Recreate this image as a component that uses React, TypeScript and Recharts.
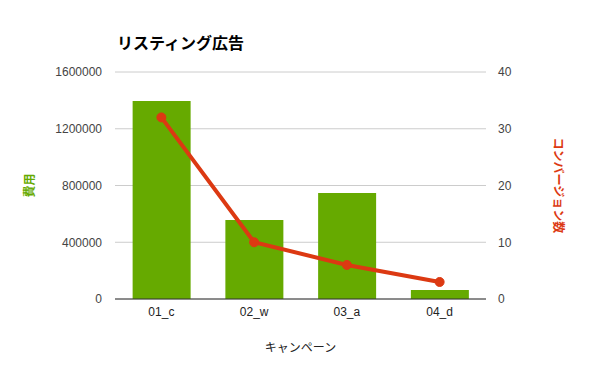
import {
  ComposedChart,
  Bar,
  Line,
  XAxis,
  YAxis,
  CartesianGrid,
  Label,
} from 'recharts';

const campaigns = ['01_c', '02_w', '03_a', '04_d'];
const costs = [1395000, 557000, 747000, 63000];
const conversions = [32, 10, 6, 3];
const costTicks = [0, 400000, 800000, 1200000, 1600000];
const convTicks = [0, 10, 20, 30, 40];

const data = campaigns.map((name, i) => ({
  name,
  cost: costs[i],
  conv: conversions[i],
}));

const GREEN = '#66aa00';
const RED = '#dc3912';
const JP = '"Liberation Sans", Arial, "Noto Sans CJK JP", sans-serif';

const LeftTitle = ({ viewBox }: any) => {
  const cy = viewBox.y + viewBox.height / 2;
  return (
    <text
      x={30}
      y={cy}
      transform={`rotate(-90 30 ${cy})`}
      textAnchor="middle"
      dominantBaseline="central"
      fill={GREEN}
      fontSize={12}
      fontWeight="bold"
      fontFamily={JP}
    >
      費用
    </text>
  );
};

const RightTitle = ({ viewBox }: any) => {
  const cy = viewBox.y + viewBox.height / 2;
  const cx = 558;
  return (
    <text
      x={cx}
      y={cy}
      transform={`rotate(90 ${cx} ${cy})`}
      textAnchor="middle"
      dominantBaseline="central"
      fill={RED}
      fontSize={12}
      fontWeight="bold"
      fontFamily={JP}
    >
      コンバージョン数
    </text>
  );
};

export default function App() {
  return (
    <div
      style={{
        position: 'absolute',
        left: 0,
        top: 0,
        width: 600,
        height: 371,
        background: '#fff',
        fontFamily: JP,
      }}
    >
      <div
        style={{
          position: 'absolute',
          left: 117,
          top: 34,
          fontSize: 16,
          fontWeight: 'bold',
          color: '#000',
          lineHeight: '20px',
        }}
      >
        リスティング広告
      </div>
      <ComposedChart
        width={600}
        height={371}
        data={data}
        margin={{ top: 72, right: 0, left: 0, bottom: 0 }}
        barCategoryGap="19%"
      >
        <CartesianGrid vertical={false} stroke="#cccccc" yAxisId="left" />
        <XAxis
          dataKey="name"
          height={72}
          tickLine={false}
          axisLine={{ stroke: '#333333' }}
          tick={{ fontSize: 12, fill: '#222222', fontFamily: JP }}
        >
          <Label
            value="キャンペーン"
            position="insideBottom"
            offset={19}
            fill="#222222"
            fontSize={12}
            fontFamily={JP}
          />
        </XAxis>
        <YAxis
          yAxisId="left"
          width={115}
          domain={[0, 1600000]}
          ticks={costTicks}
          tickLine={false}
          axisLine={false}
          tickMargin={7}
          tick={{ fontSize: 12, fill: '#444444', fontFamily: JP }}
        >
          <Label content={<LeftTitle />} />
        </YAxis>
        <YAxis
          yAxisId="right"
          orientation="right"
          width={114}
          domain={[0, 40]}
          ticks={convTicks}
          tickLine={false}
          axisLine={false}
          tickMargin={6}
          tick={{ fontSize: 12, fill: '#444444', fontFamily: JP }}
        >
          <Label content={<RightTitle />} />
        </YAxis>
        <Bar
          yAxisId="left"
          dataKey="cost"
          fill={GREEN}
          isAnimationActive={false}
        />
        <Line
          yAxisId="right"
          dataKey="conv"
          stroke={RED}
          strokeWidth={4}
          dot={{ r: 4.5, fill: RED, stroke: RED, strokeWidth: 1 }}
          isAnimationActive={false}
        />
      </ComposedChart>
    </div>
  );
}
